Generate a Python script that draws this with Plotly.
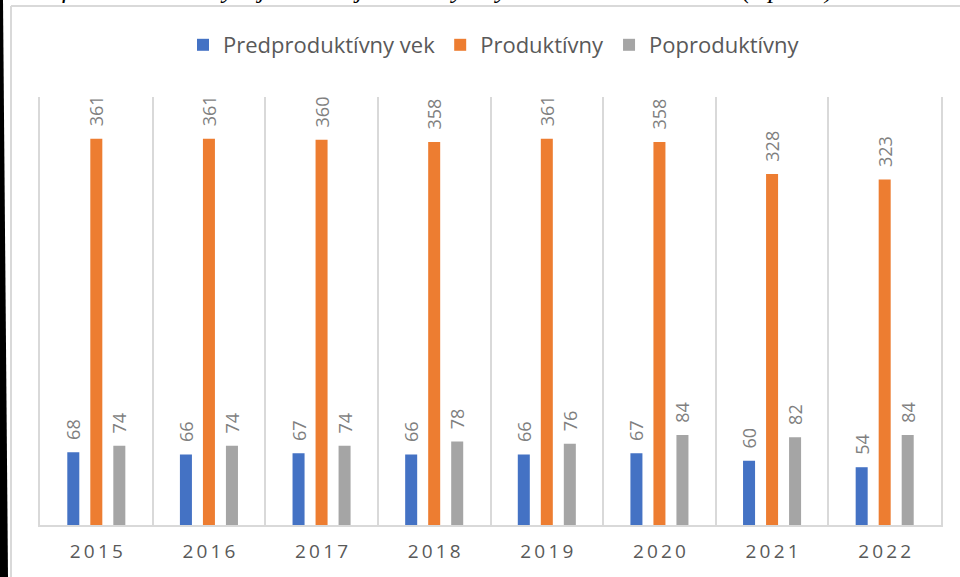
import plotly.graph_objects as go

years = ["2015", "2016", "2017", "2018", "2019", "2020", "2021", "2022"]
tick_labels = ["\u2009".join(y) for y in years]
predproduktivny = [68, 66, 67, 66, 66, 67, 60, 54]
produktivny = [361, 361, 360, 358, 361, 358, 328, 323]
poproduktivny = [74, 74, 74, 78, 76, 84, 82, 84]

series = [
    ("Predproduktívny vek", predproduktivny, "#4472C4"),
    ("Produktívny", produktivny, "#ED7D31"),
    ("Poproduktívny", poproduktivny, "#A5A5A5"),
]

W, H = 960, 577
L, R, T, B = 40, 19, 97, 52
pw, ph = W - L - R, H - T - B

def px(x):
    return (x - L) / pw

def py(y):
    return 1 - (y - T) / ph

fig = go.Figure()
for name, vals, col in series:
    fig.add_trace(go.Bar(
        name=name, x=years, y=vals, marker=dict(color=col, line=dict(width=0)),
        text=["\u00a0\u00a0" + str(v) for v in vals], textposition="outside", textangle=-90,
        constraintext="none",
        textfont=dict(color="#7F7F7F", size=18, family="Open Sans"),
        cliponaxis=False,
    ))

fig.update_layout(
    width=W, height=H,
    margin=dict(l=L, r=R, t=T, b=B, autoexpand=False),
    paper_bgcolor="white", plot_bgcolor="white",
    barmode="group", bargap=0.387, bargroupgap=0.478,
    font=dict(family="Open Sans", color="#595959"),
    showlegend=True,
    legend=dict(orientation="h", x=px(494), xanchor="center", y=py(45), yanchor="middle",
                font=dict(size=22, color="#595959"), traceorder="normal",
                itemwidth=30),
    xaxis=dict(tickmode="array", tickvals=years, ticktext=tick_labels,
               tickson="boundaries", showgrid=True, gridcolor="#D9D9D9", gridwidth=1.5,
               showline=True, linecolor="#D9D9D9", linewidth=2, ticks="",
               tickfont=dict(size=19, color="#595959"), ticklabelstandoff=8),
    yaxis=dict(range=[0, 400], showgrid=False, showticklabels=False, zeroline=False,
               showline=True, linecolor="#D9D9D9", linewidth=1.5, mirror=True, ticks=""),
    shapes=[
        dict(type="line", xref="paper", yref="paper", x0=px(11), x1=px(960), y0=py(6), y1=py(6),
             line=dict(color="#D9D9D9", width=2)),
        dict(type="line", xref="paper", yref="paper", x0=px(11), x1=px(11), y0=py(6), y1=py(577),
             line=dict(color="#D9D9D9", width=2)),
        dict(type="path", xref="paper", yref="paper",
             path=f"M {px(0)},{py(0)} L {px(3)},{py(0)} L {px(8)},{py(577)} L {px(0)},{py(577)} Z",
             fillcolor="black", line=dict(width=0)),
    ],
    annotations=[
        dict(text="<i>Graf č. 3 Prehľad vývoja vekovej štruktúry obyvateľov obce Hrabina (v počte)</i>",
             xref="paper", yref="paper", x=px(18), y=py(6), xanchor="left", yanchor="bottom",
             showarrow=False, font=dict(family="Liberation Serif", size=26, color="black")),
    ],
)

fig.write_html("out.html", config={"displayModeBar": False},
               post_script="document.body.style.margin='0';document.body.style.overflow='hidden';")
